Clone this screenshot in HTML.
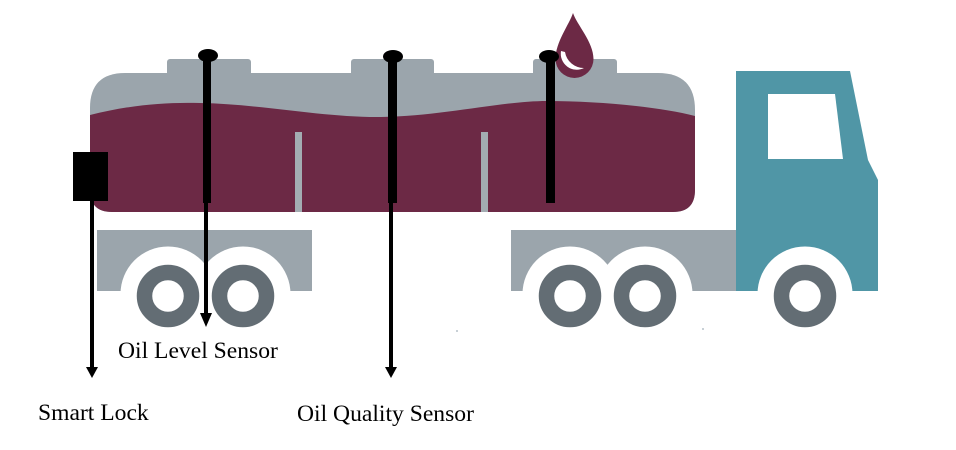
<!DOCTYPE html>
<html>
<head>
<meta charset="utf-8">
<style>
  html,body{margin:0;padding:0;background:#fff;}
  body{width:956px;height:450px;overflow:hidden;}
  svg{display:block;}
  text{font-family:"Liberation Serif",serif;font-size:23.6px;fill:#000;}
</style>
</head>
<body>
<svg width="956" height="450" viewBox="0 0 956 450" xmlns="http://www.w3.org/2000/svg">
  <!-- tank humps -->
  <rect x="167" y="59" width="84" height="20" rx="3" fill="#9ba5ac"/>
  <rect x="351" y="59" width="83" height="20" rx="3" fill="#9ba5ac"/>
  <rect x="533" y="59" width="84" height="20" rx="3" fill="#9ba5ac"/>
  <!-- tank gray body -->
  <path d="M125,73 L658,73 Q695,73 695,110 L695,190 Q695,212 673,212 L112,212 Q90,212 90,190 L90,108 Q90,73 125,73 Z" fill="#9ba5ac"/>
  <!-- maroon liquid -->
  <path d="M90,115 C130,105 165,102 200,103 C260,104 320,117 377,117 C440,117 500,101 547,101 C600,101 660,107 695,116 L695,190 Q695,212 673,212 L112,212 Q90,212 90,190 Z" fill="#6c2945"/>
  <!-- stripes -->
  <rect x="295" y="132" width="7" height="80" fill="#a3acb2"/>
  <rect x="481" y="132" width="7" height="80" fill="#a3acb2"/>
  <!-- drop -->
  <path d="M573,13 C577,25 593.5,42 593.5,59 A19,19 0 0 1 555.5,59 C555.5,42 569,25 573,13 Z" fill="#6c2945"/>
  <path d="M561,51 A16,16 0 0 0 584,68 A19,19 0 0 1 565,52 Z" fill="#fff"/>

  <!-- chassis -->
  <rect x="97" y="230" width="215" height="61" fill="#9ba5ac"/>
  <rect x="511" y="230" width="226" height="61" fill="#9ba5ac"/>
  <!-- cab -->
  <path d="M736,71 L850,71 L868,160 L878,180 L878,291 L736,291 Z" fill="#5096a6"/>
  <path d="M768,94 L835,94 L843,159 L768,159 Z" fill="#fff"/>
  <!-- arch cutouts -->
  <g fill="#fff">
    <circle cx="168" cy="294" r="47.5"/>
    <circle cx="243" cy="294" r="47.5"/>
    <circle cx="570" cy="294" r="47.5"/>
    <circle cx="645" cy="294" r="47.5"/>
    <circle cx="805" cy="294" r="47.5"/>
  </g>
  <!-- wheels -->
  <g fill="none" stroke="#636d74" stroke-width="15.5">
    <circle cx="168" cy="296" r="23.5"/>
    <circle cx="243" cy="296" r="23.5"/>
    <circle cx="570" cy="296" r="23.5"/>
    <circle cx="645" cy="296" r="23.5"/>
    <circle cx="805" cy="296" r="23.5"/>
  </g>
  <!-- tiny dots -->
  <rect x="456" y="330" width="2" height="2" fill="#c8d0d6"/>
  <rect x="702" y="328" width="2" height="2" fill="#c8d0d6"/>

  <!-- smart lock -->
  <rect x="73" y="152" width="35" height="49" fill="#000"/>
  <rect x="90" y="200" width="4" height="168" fill="#000"/>
  <path d="M86,367 L98,367 L92,378 Z" fill="#000"/>

  <!-- sensor 1 (oil level) -->
  <rect x="203" y="56" width="8" height="147" fill="#000"/>
  <ellipse cx="208" cy="55.5" rx="10" ry="6.5" fill="#000"/>
  <rect x="204" y="202" width="4" height="112" fill="#000"/>
  <path d="M200,313 L212,313 L206,327 Z" fill="#000"/>

  <!-- sensor 2 (oil quality) -->
  <rect x="388" y="57" width="9" height="146" fill="#000"/>
  <ellipse cx="393" cy="56.5" rx="10" ry="6.5" fill="#000"/>
  <rect x="389" y="202" width="4" height="166" fill="#000"/>
  <path d="M385,367 L397,367 L391,378 Z" fill="#000"/>

  <!-- sensor 3 -->
  <rect x="546" y="57" width="9" height="146" fill="#000"/>
  <ellipse cx="549" cy="56.5" rx="10" ry="6.5" fill="#000"/>

  <!-- labels -->
  <text x="118" y="358">Oil Level Sensor</text>
  <text x="38" y="420">Smart Lock</text>
  <text x="297" y="421">Oil Quality Sensor</text>
</svg>
</body>
</html>
